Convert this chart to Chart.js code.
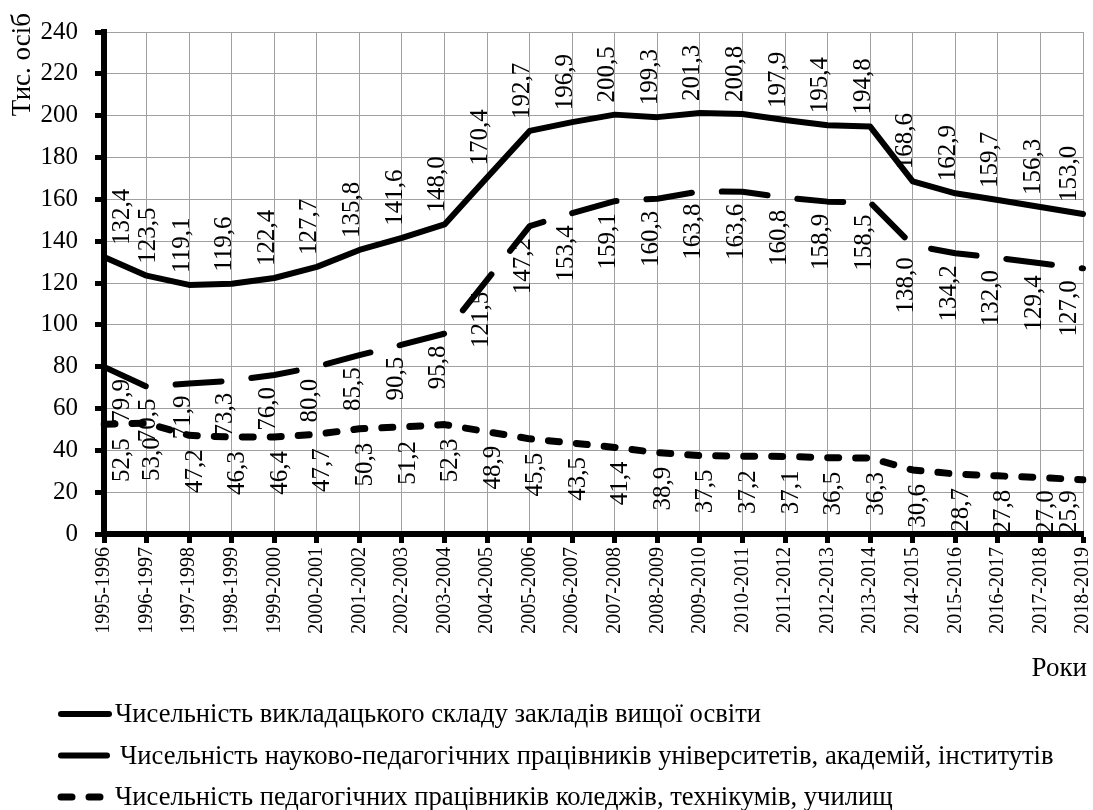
<!DOCTYPE html>
<html>
<head>
<meta charset="utf-8">
<title>Чисельність працівників освіти</title>
<script src="https://cdn.jsdelivr.net/npm/chart.js@4.4.1/dist/chart.umd.min.js"></script>
<style>
  html, body { margin: 0; padding: 0; background: #fff; }
  #wrap { width: 1093px; height: 810px; }
</style>
</head>
<body>
<div id="wrap"><canvas id="staffChart" width="1093" height="810"></canvas></div>
<script>
const years = [
  '1995-1996', '1996-1997', '1997-1998', '1998-1999', '1999-2000', '2000-2001',
  '2001-2002', '2002-2003', '2003-2004', '2004-2005', '2005-2006', '2006-2007',
  '2007-2008', '2008-2009', '2009-2010', '2010-2011', '2011-2012', '2012-2013',
  '2013-2014', '2014-2015', '2015-2016', '2016-2017', '2017-2018', '2018-2019'
];

const higherEdStaff = [
  132.4, 123.5, 119.1, 119.6, 122.4, 127.7, 135.8, 141.6, 148.0, 170.4, 192.7, 196.9,
  200.5, 199.3, 201.3, 200.8, 197.9, 195.4, 194.8, 168.6, 162.9, 159.7, 156.3, 153.0
];

const universityStaff = [
  79.9, 70.5, 71.9, 73.3, 76.0, 80.0, 85.5, 90.5, 95.8, 121.5, 147.2, 153.4,
  159.1, 160.3, 163.8, 163.6, 160.8, 158.9, 158.5, 138.0, 134.2, 132.0, 129.4, 127.0
];

const collegeStaff = [
  52.5, 53.0, 47.2, 46.3, 46.4, 47.7, 50.3, 51.2, 52.3, 48.9, 45.5, 43.5,
  41.4, 38.9, 37.5, 37.2, 37.1, 36.5, 36.3, 30.6, 28.7, 27.8, 27.0, 25.9
];

const seriesNames = [
  'Чисельність викладацького складу закладів вищої освіти',
  'Чисельність науково-педагогічних працівників університетів, академій, інститутів',
  'Чисельність педагогічних працівників коледжів, технікумів, училищ'
];

const yMin = 0;
const yMax = 240;
const yStep = 20;

const FONT = "'Liberation Serif', 'Times New Roman', serif";
const labelSide = ['above', 'below', 'below'];
const labelShift = [-7, -6, 6];
const labelGap = [12, 12, 14];

// vertical value labels next to every point
const valueLabels = {
  id: 'valueLabels',
  afterDatasetsDraw(chart) {
    const { ctx, chartArea } = chart;
    ctx.save();
    ctx.font = '25px ' + FONT;
    ctx.fillStyle = '#000';
    ctx.textBaseline = 'middle';
    chart.data.datasets.forEach((ds, i) => {
      const meta = chart.getDatasetMeta(i);
      let prevX = -Infinity;
      meta.data.forEach((pt, j) => {
        const text = ds.data[j].toFixed(1).replace('.', ',');
        const len = ctx.measureText(text).width;
        const half = 12;
        let x = pt.x + labelShift[i];
        x = Math.max(x, chartArea.left + half + 6, prevX + 26);
        x = Math.min(x, chartArea.right - half - 2);
        prevX = x;
        let bottom;
        if (labelSide[i] === 'above') {
          bottom = pt.y - labelGap[i];
        } else {
          bottom = Math.min(pt.y + labelGap[i] + len, chartArea.bottom);
        }
        ctx.save();
        ctx.translate(x, bottom);
        ctx.rotate(-Math.PI / 2);
        ctx.textAlign = 'left';
        ctx.fillText(text, 0, 0);
        ctx.restore();
      });
    });
    ctx.restore();
  }
};

// axis titles and legend in the lower part
const extras = {
  id: 'extras',
  afterDraw(chart) {
    const { ctx } = chart;
    ctx.save();
    ctx.fillStyle = '#000';

    ctx.font = '27px ' + FONT;
    ctx.save();
    ctx.translate(23, 13);
    ctx.rotate(-Math.PI / 2);
    ctx.textAlign = 'right';
    ctx.textBaseline = 'middle';
    ctx.fillText('Тис. осіб', 0, 0);
    ctx.restore();

    ctx.textAlign = 'right';
    ctx.textBaseline = 'alphabetic';
    ctx.fillText('Роки', 1087, 676);

    ctx.font = '26.6px ' + FONT;
    ctx.textAlign = 'left';
    chart.data.datasets.forEach((ds, i) => {
      const base = 722 + i * 41.5;
      const ly = base - 8;
      ctx.save();
      ctx.strokeStyle = ds.borderColor;
      ctx.lineWidth = ds.borderWidth;
      ctx.lineCap = 'round';
      ctx.setLineDash(ds.borderDash || []);
      ctx.beginPath();
      ctx.moveTo(61, ly);
      ctx.lineTo(109, ly);
      ctx.stroke();
      ctx.restore();
      ctx.fillText(ds.label, i === 1 ? 120 : 115, base);
    });
    ctx.restore();
  }
};

const ctx = document.getElementById('staffChart');

new Chart(ctx, {
  type: 'line',
  data: {
    labels: years,
    datasets: [
      {
        label: seriesNames[0],
        data: higherEdStaff,
        borderColor: '#000',
        borderWidth: 6,
        borderDash: [],
        borderCapStyle: 'round',
        borderJoinStyle: 'round',
        pointRadius: 0,
        tension: 0,
        fill: false
      },
      {
        label: seriesNames[1],
        data: universityStaff,
        borderColor: '#000',
        borderWidth: 6,
        borderDash: [46, 30],
        borderCapStyle: 'round',
        borderJoinStyle: 'round',
        pointRadius: 0,
        tension: 0,
        fill: false
      },
      {
        label: seriesNames[2],
        data: collegeStaff,
        borderColor: '#000',
        borderWidth: 7,
        borderDash: [11, 17],
        borderCapStyle: 'round',
        borderJoinStyle: 'round',
        pointRadius: 0,
        tension: 0,
        fill: false
      }
    ]
  },
  options: {
    responsive: false,
    animation: false,
    layout: {
      padding: { left: 0, right: 10, top: 30, bottom: 156 }
    },
    plugins: {
      legend: { display: false },
      tooltip: { enabled: false }
    },
    scales: {
      x: {
        type: 'category',
        offset: false,
        grid: {
          color: '#a0a0a0',
          lineWidth: 1,
          tickColor: '#000',
          tickWidth: 5,
          tickLength: 9
        },
        border: { color: '#000', width: 6 },
        ticks: {
          autoSkip: false,
          minRotation: 90,
          maxRotation: 90,
          padding: 4,
          color: '#000',
          font: { family: FONT, size: 20 }
        },
        afterFit(scale) {
          scale.height = 120;
          scale.paddingLeft = 0;
          scale.paddingRight = 0;
        }
      },
      y: {
        min: yMin,
        max: yMax,
        grid: {
          color: '#a0a0a0',
          lineWidth: 1,
          tickColor: '#000',
          tickWidth: 5,
          tickLength: 9
        },
        border: { color: '#000', width: 6 },
        ticks: {
          stepSize: yStep,
          padding: 17,
          color: '#000',
          font: { family: FONT, size: 25 }
        },
        afterFit(scale) {
          scale.width = 104;
        }
      }
    }
  },
  plugins: [valueLabels, extras]
});
</script>
</body>
</html>
